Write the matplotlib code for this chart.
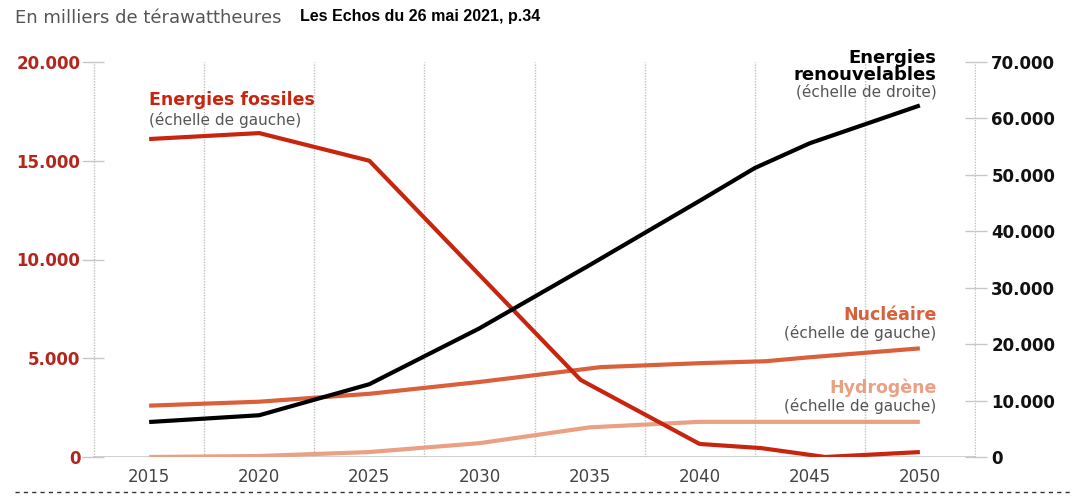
import matplotlib.pyplot as plt
from matplotlib.lines import Line2D
from matplotlib.ticker import FuncFormatter

# Data (milliers de TWh)
fossil_years = [2015, 2020, 2025, 2034.6, 2040, 2042.8, 2045.7, 2050]
fossil = [16100, 16400, 15000, 3900, 660, 450, 0, 250]

nuc_years = [2015, 2020, 2025, 2030, 2035.5, 2040, 2043, 2045, 2050]
nuclear = [2600, 2800, 3200, 3800, 4550, 4750, 4850, 5050, 5500]

h2_years = [2015, 2020, 2025, 2030, 2035, 2040, 2045, 2050]
hydrogen = [0, 50, 250, 700, 1500, 1780, 1780, 1780]

ren_years = [2015, 2020, 2025, 2030, 2035, 2040, 2042.5, 2045, 2050]
renewables = [6200, 7400, 12900, 22800, 34000, 45400, 51200, 55600, 62300]

x_ticks = [2015, 2020, 2025, 2030, 2035, 2040, 2045, 2050]
left_ticks = [0, 5000, 10000, 15000, 20000]
right_ticks = [0, 10000, 20000, 30000, 40000, 50000, 60000, 70000]

RED = '#c8250f'
NUC = '#d9603a'
H2 = '#e9a083'
TICKRED = '#b3261e'
GRAY = '#555555'

plt.rcParams['font.family'] = ['DejaVu Sans']

def fmt(v, pos):
    return f"{v:,.0f}".replace(",", ".")

fig = plt.figure(figsize=(10.73, 5.01), dpi=100)
ax = fig.add_axes([93 / 1073, 44 / 501, 883 / 1073, 395 / 501])
ax2 = ax.twinx()

ax.set_xlim(2012.45, 2052.55)
ax.set_ylim(0, 20000)
ax2.set_ylim(0, 70000)

for a in (ax, ax2):
    for s in a.spines.values():
        s.set_visible(False)

# vertical dotted grid between years
ax.set_xticks([2012.5 + 5 * i for i in range(9)], minor=True)
ax.grid(True, which='minor', axis='x', color='#c0c0c0', linestyle=(0, (1, 1)), linewidth=1.0)
ax.tick_params(axis='x', which='minor', length=0)
ax.set_xticks(x_ticks)
ax.tick_params(axis='x', which='major', length=0, labelsize=12, labelcolor='#444444', pad=8)

ax.axhline(0, color='#c8c8c8', linewidth=1.2, zorder=1)

ax.set_yticks(left_ticks)
ax.yaxis.set_major_formatter(FuncFormatter(fmt))
ax.tick_params(axis='y', direction='inout', length=16, width=1, color='#c8c8c8',
               labelsize=12, labelcolor=TICKRED, pad=1)
for t in ax.get_yticklabels():
    t.set_fontweight('bold')

ax2.set_yticks(right_ticks)
ax2.yaxis.set_major_formatter(FuncFormatter(fmt))
ax2.tick_params(axis='y', direction='inout', length=16, width=1, color='#c8c8c8',
                labelsize=12, labelcolor='#111111', pad=3)
for t in ax2.get_yticklabels():
    t.set_fontweight('bold')

# Lines
ax.plot(h2_years, hydrogen, color=H2, linewidth=3, solid_capstyle='butt', zorder=3)
ax.plot(nuc_years, nuclear, color=NUC, linewidth=3, solid_capstyle='butt', zorder=3)
ax.plot(fossil_years, fossil, color=RED, linewidth=3, solid_capstyle='butt', zorder=4)
ax2.plot(ren_years, renewables, color='black', linewidth=3, solid_capstyle='butt', zorder=5)

# Labels
ax.text(2015, 18076, 'Energies fossiles', color=RED, fontsize=12.5, fontweight='bold', va='center', ha='left')
ax.text(2015, 17063, '(échelle de gauche)', color=GRAY, fontsize=11, va='center', ha='left')

ax.text(2050.75, 20200, 'Energies', color='black', fontsize=13, fontweight='bold', va='center', ha='right')
ax.text(2050.75, 19342, 'renouvelables', color='black', fontsize=13, fontweight='bold', va='center', ha='right')
ax.text(2050.75, 18480, '(échelle de droite)', color=GRAY, fontsize=11, va='center', ha='right')

ax.text(2050.75, 7190, 'Nucléaire', color=NUC, fontsize=12.5, fontweight='bold', va='center', ha='right')
ax.text(2050.75, 6278, '(échelle de gauche)', color=GRAY, fontsize=11, va='center', ha='right')

ax.text(2050.75, 3494, 'Hydrogène', color=H2, fontsize=12.5, fontweight='bold', va='center', ha='right')
ax.text(2050.75, 2582, '(échelle de gauche)', color=GRAY, fontsize=11, va='center', ha='right')

# Header
fig.text(15 / 1073, 1 - 18 / 501, 'En milliers de térawattheures', color=GRAY, fontsize=13, va='center', ha='left')
fig.text(300 / 1073, 1 - 16 / 501, 'Les Echos du 26 mai 2021, p.34', color='black', fontsize=11.5,
         fontweight='bold', family=['Liberation Sans Narrow', 'Liberation Sans'], va='center', ha='left')

# bottom dashed separator
fig.add_artist(Line2D([15 / 1073, 1], [1 - 492 / 501] * 2, color='#333333', linewidth=1,
                      linestyle=(0, (3, 3)), transform=fig.transFigure))

fig.savefig('out.png', dpi=100)
